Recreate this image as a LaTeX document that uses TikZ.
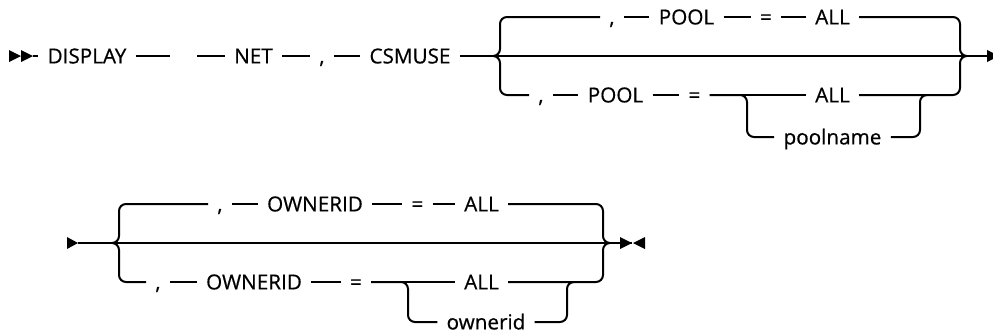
\documentclass[tikz,border=0pt]{standalone}
\usepackage{fontspec}
\setmainfont{Open Sans}
\newfontfamily\railfont{Open Sans}[FakeBold=0.6]
\usepackage{tikz}
\usetikzlibrary{positioning,calc}
\tikzset{
  kw/.style={
    inner xsep=7pt, inner ysep=0pt, outer sep=0pt,
    text height=11.1pt, text depth=0pt,
    font=\railfont\fontsize{15.5}{17}\selectfont
  },
  rail/.style={line width=1.5pt, line cap=butt},
  railbend/.style={rail, rounded corners=5.25pt},
  railmark/.style={fill=black},
}

\begin{document}
\begin{tikzpicture}[x=0.75pt, y=-0.75pt]
\useasboundingbox (0,0) rectangle (993,333);
\clip (0,0) rectangle (993,333);

% ── First line ──
\coordinate (start1) at (33,56);
\node[kw] (display) at (87,56) {DISPLAY};
\coordinate (gapa) at (170,56);
\coordinate (gapb) at (197,56);
\node[kw] (net) at (253.5,56) {NET};
\node[kw] (comma1) at (322,56) {,};
\node[kw] (csmuse) at (410,56) {CSMUSE};

% braces of the POOL choice
\coordinate (lb1) at (493,56);
\coordinate (lbv1) at (500,56);
\coordinate (rbv1) at (960,56);
\coordinate (rb1) at (967,56);
\coordinate (end1) at (987,56);

% upper choice
\node[kw] (ucomma1) at (612,17) {,};
\node[kw] (upool) at (686.5,17) {POOL};
\node[kw] (ueq1) at (766,17) {=};
\node[kw] (uall1) at (832.5,17) {ALL};

% lower choice
\node[kw] (lcomma1) at (541,95) {,};
\node[kw] (lpool) at (615.5,95) {POOL};
\node[kw] (leq1) at (694.5,95) {=};
\node[kw] (lall1) at (832.5,95) {ALL};
\node[kw] (poolname) at (832.5,137) {poolname};
\coordinate (fork1) at (747,95);
\coordinate (join1) at (920,95);

% start marks and main rail
\fill[railmark] (start1) -- ++(-12,-6) -- ++(0,12) -- cycle;
\fill[railmark] (start1) ++(-12,0) -- ++(-12,-6) -- ++(0,12) -- cycle;
\draw[rail] (start1) -- (display.west);
\draw[rail] (display.east) -- (gapa);
\draw[rail] (gapb) -- (net.west);
\draw[rail] (net.east) -- (comma1.west);
\draw[rail] (comma1.east) -- (csmuse.west);
\draw[rail] (csmuse.east) -- (lb1) -- (rb1) -- (end1);
\fill[railmark] (end1) ++(0,-6) -- ++(12,6) -- ++(-12,6) -- cycle;

\draw[railbend] (lb1) -- (lbv1) |- (ucomma1.west);
\draw[rail] (ucomma1.east) -- (upool.west);
\draw[rail] (upool.east) -- (ueq1.west);
\draw[rail] (ueq1.east) -- (uall1.west);
\draw[railbend] (uall1.east) -| (rbv1) -- (rb1);

\draw[railbend] (lb1) -- (lbv1) |- (lcomma1.west);
\draw[rail] (lcomma1.east) -- (lpool.west);
\draw[rail] (lpool.east) -- (leq1.west);
\draw[rail] (leq1.east) -- (lall1.west);
\draw[railbend] (lall1.east) -| (rbv1) -- (rb1);
\draw[railbend] (leq1.east) -- (fork1) |- (poolname.west);
\draw[railbend] (poolname.east) -| (join1) -- ++(7,0);

% ── Second line ──
\coordinate (start2) at (78,243);
\coordinate (lb2) at (112,243);
\coordinate (lbv2) at (119,243);
\coordinate (rbv2) at (603,243);
\coordinate (rb2) at (610,243);
\coordinate (end2) at (632,243);

% upper choice
\node[kw] (ucomma2) at (220,204) {,};
\node[kw] (uowner) at (315,204) {OWNERID};
\node[kw] (ueq2) at (417.5,204) {=};
\node[kw] (uall2) at (481.5,204) {ALL};

% lower choice
\node[kw] (lcomma2) at (158,282) {,};
\node[kw] (lowner) at (254,282) {OWNERID};
\node[kw] (leq2) at (356,282) {=};
\node[kw] (lall2) at (481.5,282) {ALL};
\node[kw] (ownerid) at (486,322) {ownerid};
\coordinate (fork2) at (408,282);
\coordinate (join2) at (567,282);

\fill[railmark] (start2) -- ++(-11,-6) -- ++(0,12) -- cycle;
\draw[rail] (start2) -- (lb2) -- (rb2) -- (end2);
\fill[railmark] (end2) -- ++(-12,-6) -- ++(0,12) -- cycle;
\fill[railmark] (end2) ++(1,0) -- ++(12,-6) -- ++(0,12) -- cycle;

\draw[railbend] (lb2) -- (lbv2) |- (ucomma2.west);
\draw[rail] (ucomma2.east) -- (uowner.west);
\draw[rail] (uowner.east) -- (ueq2.west);
\draw[rail] (ueq2.east) -- (uall2.west);
\draw[railbend] (uall2.east) -| (rbv2) -- (rb2);

\draw[railbend] (lb2) -- (lbv2) |- (lcomma2.west);
\draw[rail] (lcomma2.east) -- (lowner.west);
\draw[rail] (lowner.east) -- (leq2.west);
\draw[rail] (leq2.east) -- (lall2.west);
\draw[railbend] (lall2.east) -| (rbv2) -- (rb2);
\draw[railbend] (leq2.east) -- (fork2) |- (ownerid.west);
\draw[railbend] (ownerid.east) -| (join2) -- ++(7,0);

\end{tikzpicture}
\end{document}
